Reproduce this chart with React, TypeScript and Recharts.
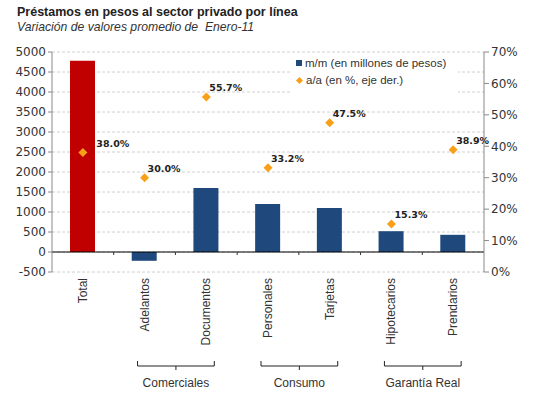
import React from 'react'
import {
  ComposedChart,
  Bar,
  Cell,
  Scatter,
  XAxis,
  YAxis,
  CartesianGrid,
  ReferenceLine,
} from 'recharts'

const categories = ['Total', 'Adelantos', 'Documentos', 'Personales', 'Tarjetas', 'Hipotecarios', 'Prendarios']
const mmValues = [4780, -220, 1600, 1200, 1100, 520, 430]
const aaValues = [38.0, 30.0, 55.7, 33.2, 47.5, 15.3, 38.9]
const groups = ['', 'Comerciales', 'Comerciales', 'Consumo', 'Consumo', 'Garantía Real', 'Garantía Real']
const leftTicks = [-500, 0, 500, 1000, 1500, 2000, 2500, 3000, 3500, 4000, 4500, 5000]
const rightTicks = [0, 10, 20, 30, 40, 50, 60, 70]

const data = categories.map((name, i) => ({
  name,
  mm: mmValues[i],
  aa: aaValues[i],
  group: groups[i],
}))

const W = 533
const H = 396
const LEFT = 52
const RIGHT = 49
const STEP = (W - LEFT - RIGHT) / categories.length
const BAR = 25

const RED = '#C00000'
const BLUE = '#1F497D'
const ORANGE = '#F9A01B'
const TEXT = '#333333'
const LABEL_FONT = '"Liberation Sans", Arial, sans-serif'
const TICK_FONT = '"DejaVu Sans", Verdana, sans-serif'

const CategoryTick = (props: any) => {
  const { x, y, payload, index } = props
  const g = groups[index]
  const isGroupEnd = g && groups[index + 1] !== g
  const x0 = x - STEP - 7
  const x1 = x + 8
  const mid = (x0 + x1) / 2
  return (
    <g>
      <text
        x={x + 4}
        y={y + 6}
        transform={`rotate(-90, ${x + 4}, ${y + 6})`}
        textAnchor="end"
        fontFamily={LABEL_FONT}
        fontSize={12}
        fill={TEXT}
      >
        {payload.value}
      </text>
      {isGroupEnd && (
        <g>
          <path
            d={`M${x0},${y + 89} V${y + 94} H${x1} V${y + 89} M${mid},${y + 94} V${y + 98}`}
            stroke="#222"
            strokeWidth={1}
            fill="none"
          />
          <text x={mid} y={y + 115} textAnchor="middle" fontFamily={LABEL_FONT} fontSize={12} fill={TEXT}>
            {g}
          </text>
        </g>
      )}
    </g>
  )
}

// zero line with small category-boundary ticks
const ZeroLine = (props: any) => {
  const { x1, y1, x2 } = props
  const ticks = []
  for (let k = 1; k < categories.length; k++) {
    const tx = x1 + k * STEP
    ticks.push(<line key={k} x1={tx} x2={tx} y1={y1} y2={y1 + 3} stroke="#333" />)
  }
  return (
    <g>
      <line x1={x1} x2={x2} y1={y1} y2={y1} stroke="#000" strokeWidth={1} />
      {ticks}
    </g>
  )
}

const DiamondLabel = (props: any) => {
  const { cx, cy, payload } = props
  const r = 4.5
  // the first label sits beside its (tall) bar
  const lx = payload.name === categories[0] ? cx + BAR / 2 + 1 : cx + 3
  return (
    <g>
      <path d={`M${cx},${cy - r} L${cx + r},${cy} L${cx},${cy + r} L${cx - r},${cy} Z`} fill={ORANGE} />
      <text x={lx} y={cy - 6} fontFamily={TICK_FONT} fontWeight="bold" fontSize={9.5} fill="#222">
        {payload.aa.toFixed(1)}%
      </text>
    </g>
  )
}

export default function App() {
  return (
    <div style={{ position: 'absolute', left: 0, top: 0, width: W, height: H, background: '#fff' }}>
      <div
        style={{
          position: 'absolute',
          left: 17,
          top: 5,
          fontFamily: LABEL_FONT,
          fontWeight: 'bold',
          fontSize: 12.5,
          color: '#222',
          whiteSpace: 'nowrap',
        }}
      >
        Préstamos en pesos al sector privado por línea
      </div>
      <div
        style={{
          position: 'absolute',
          left: 17,
          top: 20,
          fontFamily: LABEL_FONT,
          fontStyle: 'italic',
          fontSize: 12.2,
          color: TEXT,
          whiteSpace: 'nowrap',
        }}
      >
        Variación de valores promedio de &nbsp;Enero-11
      </div>
      <ComposedChart
        width={W}
        height={H}
        data={data}
        margin={{ top: 52, right: 0, bottom: 0, left: 5 }}
      >
        <CartesianGrid vertical={false} stroke="#d0d0d0" strokeDasharray="3 2" yAxisId="left" />
        <XAxis
          dataKey="name"
          height={124}
          axisLine={false}
          tickLine={false}
          tickSize={0}
          tickMargin={0}
          interval={0}
          tick={<CategoryTick />}
        />
        <YAxis
          yAxisId="left"
          width={47}
          domain={[-500, 5000]}
          ticks={leftTicks}
          interval={0}
          axisLine={{ stroke: '#888' }}
          tickLine={{ stroke: '#888' }}
          tickSize={4}
          tick={{ fontFamily: TICK_FONT, fontSize: 12, fill: TEXT }}
        />
        <YAxis
          yAxisId="right"
          orientation="right"
          width={RIGHT}
          domain={[0, 70]}
          ticks={rightTicks}
          interval={0}
          axisLine={{ stroke: '#888' }}
          tickLine={{ stroke: '#888' }}
          tickSize={5}
          tickFormatter={(v: number) => `${v}%`}
          tick={{ fontFamily: TICK_FONT, fontSize: 12, fill: TEXT }}
        />
        <Bar yAxisId="left" dataKey="mm" barSize={BAR} isAnimationActive={false}>
          {data.map((d, i) => (
            <Cell key={d.name} fill={i === 0 ? RED : BLUE} />
          ))}
        </Bar>
        <ReferenceLine yAxisId="left" y={0} shape={<ZeroLine />} />
        <Scatter yAxisId="right" dataKey="aa" shape={<DiamondLabel />} isAnimationActive={false} />
      </ComposedChart>
      <div
        style={{
          position: 'absolute',
          left: 290,
          top: 53,
          width: 168,
          height: 40,
          background: '#fff',
          fontFamily: LABEL_FONT,
          fontSize: 11.5,
          color: TEXT,
        }}
      >
        <div style={{ position: 'absolute', left: 6, top: 4, display: 'flex', alignItems: 'center', whiteSpace: 'nowrap' }}>
          <span style={{ display: 'inline-block', width: 6, height: 6, background: BLUE, marginRight: 3 }} />
          m/m (en millones de pesos)
        </div>
        <div style={{ position: 'absolute', left: 6, top: 21, display: 'flex', alignItems: 'center', whiteSpace: 'nowrap' }}>
          <span
            style={{
              display: 'inline-block',
              width: 5,
              height: 5,
              background: ORANGE,
              transform: 'rotate(45deg)',
              marginRight: 4,
              marginLeft: 1,
            }}
          />
          a/a (en %, eje der.)
        </div>
      </div>
    </div>
  )
}
